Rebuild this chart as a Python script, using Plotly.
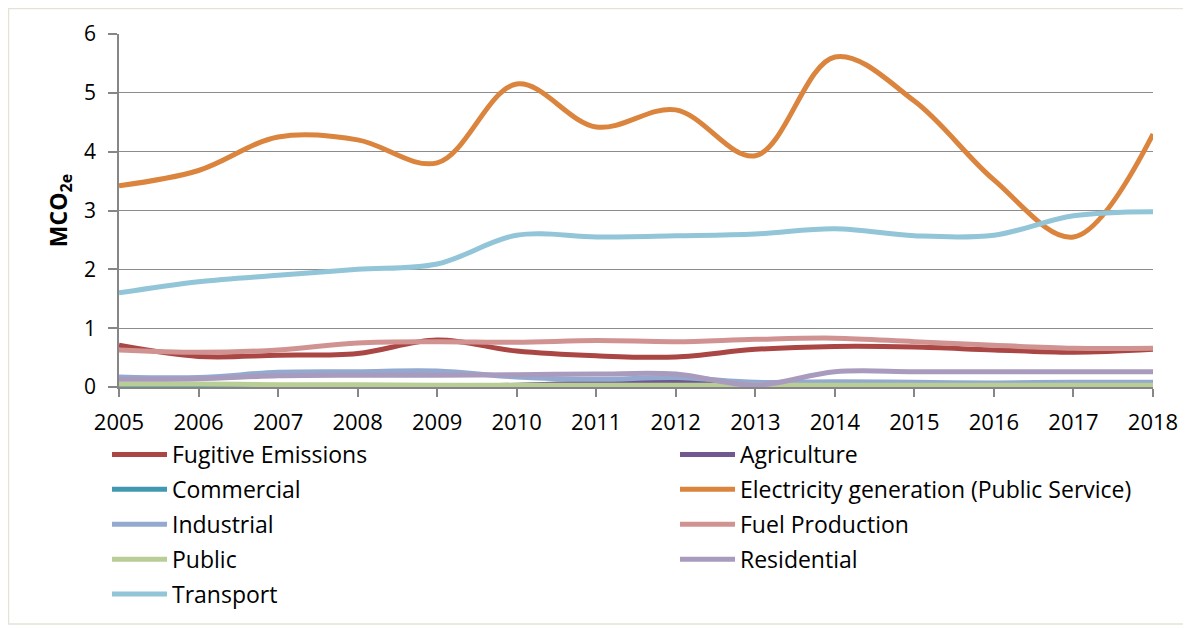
import plotly.graph_objects as go

years = list(range(2005, 2019))
series_names = ["Fugitive Emissions", "Agriculture", "Commercial",
                "Electricity generation (Public Service)", "Industrial",
                "Fuel Production", "Public", "Residential", "Transport"]

fugitive = [0.71, 0.52, 0.54, 0.57, 0.80, 0.61, 0.53, 0.51, 0.64, 0.69, 0.68, 0.63, 0.59, 0.64]
agriculture = [0.02, 0.02, 0.02, 0.02, 0.02, 0.03, 0.07, 0.08, 0.06, 0.04, 0.03, 0.03, 0.03, 0.03]
commercial = [0.01, 0.01, 0.01, 0.01, 0.01, 0.01, 0.01, 0.01, 0.01, 0.01, 0.01, 0.01, 0.01, 0.01]
electricity = [3.42, 3.68, 4.25, 4.20, 3.81, 5.15, 4.42, 4.71, 3.93, 5.61, 4.86, 3.52, 2.55, 4.30]
industrial = [0.17, 0.16, 0.25, 0.26, 0.27, 0.17, 0.13, 0.16, 0.08, 0.09, 0.08, 0.07, 0.08, 0.08]
fuel_production = [0.63, 0.59, 0.63, 0.75, 0.77, 0.76, 0.79, 0.77, 0.81, 0.83, 0.77, 0.71, 0.66, 0.66]
public = [0.05, 0.05, 0.04, 0.04, 0.03, 0.03, 0.03, 0.03, 0.03, 0.03, 0.03, 0.03, 0.03, 0.03]
residential = [0.13, 0.14, 0.19, 0.20, 0.20, 0.21, 0.22, 0.22, 0.03, 0.26, 0.26, 0.26, 0.26, 0.26]
transport = [1.60, 1.79, 1.90, 2.00, 2.09, 2.58, 2.55, 2.57, 2.60, 2.69, 2.57, 2.58, 2.91, 2.98]

values = [fugitive, agriculture, commercial, electricity, industrial,
          fuel_production, public, residential, transport]
colors = ["#AA4643", "#71588F", "#4198AF", "#DB843D", "#93A9CF",
          "#D19392", "#B9CD96", "#A99BBD", "#92C5D8"]
y_ticks = [0, 1, 2, 3, 4, 5, 6]

FONT = "'Open Sans', Lato, sans-serif"

OFF = 8  # page body margin
W, H = 1191 - OFF, 628 - OFF
# plot area in screen pixels: x 119..1153, y 34..387
L = 119 - OFF
T = 34 - OFF
R = W - (1153 - OFF)
B = H - (387 - OFF)
pw, ph = W - L - R, H - T - B
def px(xs): return (xs - OFF - L) / pw
def py(ys): return (H - B - (ys - OFF)) / ph

fig = go.Figure()
for i, (name, vals, col) in enumerate(zip(series_names, values, colors)):
    fig.add_trace(go.Scatter(x=years, y=vals, name=name, mode="lines",
                             legend="legend" if i % 2 == 0 else "legend2",
                             legendgroup=name,
                             line=dict(color=col, width=5, shape="spline", smoothing=1.0)))

fig.add_shape(type="rect", xref="paper", yref="paper",
              x0=px(OFF + 0.5), x1=px(1185), y0=py(624), y1=py(OFF + 0.5),
              line=dict(color="#E6E2D6", width=1.5), layer="below")

leg_common = dict(orientation="v", yanchor="top", itemwidth=55,
                  font=dict(family=FONT, size=23, color="black"),
                  tracegroupgap=2, bgcolor="rgba(0,0,0,0)")

fig.update_layout(
    width=W, height=H,
    margin=dict(l=L, r=R, t=T, b=B, autoexpand=False),
    paper_bgcolor="white", plot_bgcolor="white",
    font=dict(family=FONT, size=22, color="black"),
    showlegend=True,
    legend=dict(x=px(107), xanchor="left", y=py(433), **leg_common),
    legend2=dict(x=px(675), xanchor="left", y=py(433), **leg_common),
    xaxis=dict(range=[2005, 2018], tickmode="array", tickvals=years,
               ticktext=[str(y) for y in years], automargin=False,
               showgrid=False, zeroline=False, showline=True, linecolor="#868686", linewidth=1.5,
               ticks="outside", ticklen=8, tickcolor="#868686", tickwidth=1.5,
               ticklabelstandoff=7,
               tickfont=dict(family=FONT, size=22), fixedrange=True),
    yaxis=dict(range=[0, 6], tickmode="array", tickvals=y_ticks, automargin=False,
               showgrid=True, gridcolor="#8C8C8C", gridwidth=1.2, zeroline=False,
               showline=True, linecolor="#868686", linewidth=1.5,
               ticks="outside", ticklen=9, tickcolor="#868686", tickwidth=1.5,
               ticklabelstandoff=8,
               tickfont=dict(family=FONT, size=21),
               title=dict(text="<b>MCO<sub>2e</sub></b>", font=dict(family=FONT, size=23), standoff=10),
               fixedrange=True),
)

fig.write_html("out.html")
